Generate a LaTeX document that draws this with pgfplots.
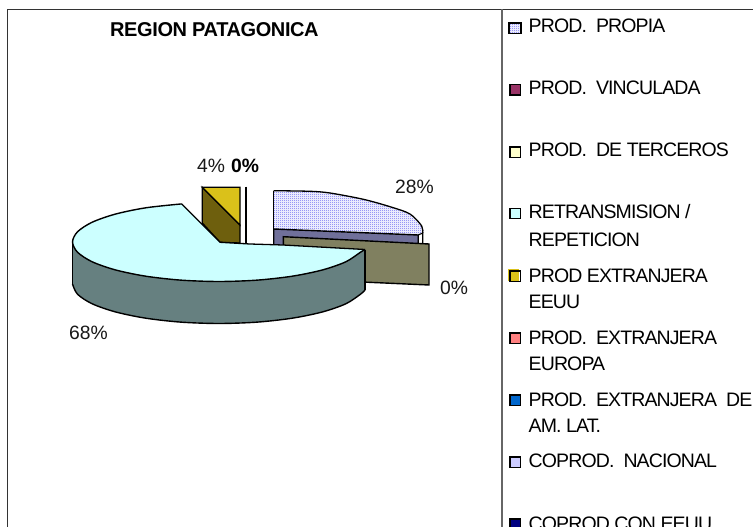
\documentclass[border=0pt]{standalone}
\usepackage{fontspec}
\setmainfont{Liberation Sans}
\newfontfamily\tight[LetterSpace=-4.5]{Liberation Sans}
\newfontfamily\tighttitle[LetterSpace=-2]{Liberation Sans}
\usepackage{pgfplots}
\pgfplotsset{compat=1.18}
\usetikzlibrary{patterns}
\pgfdeclarepatternformonly{dither}{\pgfqpoint{0pt}{0pt}}{\pgfqpoint{2pt}{2pt}}{\pgfqpoint{2pt}{2pt}}{%
  \pgfpathrectangle{\pgfqpoint{0pt}{0pt}}{\pgfqpoint{1pt}{1pt}}%
  \pgfpathrectangle{\pgfqpoint{1pt}{1pt}}{\pgfqpoint{1pt}{1pt}}%
  \pgfusepath{fill}}
\definecolor{bluepat}{HTML}{6060F0}
\definecolor{bandside}{HTML}{70709A}
\definecolor{olive}{HTML}{808060}
\definecolor{cyantop}{HTML}{CCFFFF}
\definecolor{cyanside}{HTML}{668080}
\definecolor{yel}{HTML}{DAC11A}
\definecolor{yeldark}{HTML}{6E5F0D}
\definecolor{maroonx}{HTML}{993366}
\definecolor{creamx}{HTML}{FFFFCC}
\definecolor{salmonx}{HTML}{FF8080}
\definecolor{bluex}{HTML}{0066CC}
\definecolor{lavx}{HTML}{CCCCFF}
\definecolor{navyx}{HTML}{000080}
\pgfplotsset{swatch/.style={only marks,mark=square*,mark size=5.2pt,mark options={fill=#1,draw=black,line width=1.4pt}}}
\tikzset{lg/.style={anchor=base west,font=\tight\fontsize{19.5}{20}\selectfont,inner sep=0pt,text=black},
  pc/.style={anchor=base west,font=\fontsize{19.3}{20}\selectfont,inner sep=0pt,text=black!90}}
\begin{document}
\begin{tikzpicture}[x=1pt,y=1pt]
\clip (0,0) rectangle (753,527);
\fill[white] (0,0) rectangle (753,527);
\begin{axis}[at={(0,0)},anchor=south west,scale only axis,width=753pt,height=527pt,
  xmin=0,xmax=753,ymin=0,ymax=527,y dir=reverse,hide axis,clip=false]
% frame
\addplot[draw=black!80,line width=1.3pt] coordinates {(7.3,540)(7.3,9.3)(753,9.3)};
\addplot[draw=black!60,line width=1.3pt] coordinates {(502,9.3)(502,540)};
% blue slice
\addplot[fill=white,draw=none] coordinates {(273.7,190.7)(310,191.3)(330,192.7)(363.3,199.3)(390,206.7)(410,214)(421.7,226)(422.7,233)(418.3,235)(273.7,229)} --cycle;
\addplot[pattern=dither,pattern color=bluepat,draw=none] coordinates {(273.7,190.7)(310,191.3)(330,192.7)(363.3,199.3)(390,206.7)(410,214)(421.7,226)(422.7,233)(418.3,235)(273.7,229)} --cycle;
\addplot[draw=black,line width=1.3pt,smooth,tension=0.5] coordinates {(273.7,190.7)(310,191.3)(330,193)(363.3,199.3)(390,206.7)(410,214)(421.7,226)(422.7,233)};
\addplot[draw=black,line width=1.1pt] coordinates {(273.7,229)(273.7,190.7)};
\addplot[fill=bandside,draw=black,line width=1.4pt] coordinates {(273.7,229)(418.3,235)(418.3,244)(273.7,246)} --cycle;
\addplot[fill=white,draw=black,line width=1.1pt] coordinates {(418.3,235)(422.7,233)(422.7,244)(418.3,244)} --cycle;
% olive
\addplot[fill=olive,draw=black,line width=1.4pt] coordinates {(283.3,236.7)(429,244)(429,285)(340,281)(283.3,270)} --cycle;
% yellow
\addplot[fill=yeldark,draw=black,line width=1.3pt] coordinates {(202.3,187.3)(240,225)(240,243)(220,242.3)(202.3,223)} --cycle;
\addplot[fill=yel,draw=black,line width=1.3pt] coordinates {(202.3,187.3)(240,187.3)(240,225)} --cycle;
\addplot[draw=black,line width=1.8pt] coordinates {(245.7,186.5)(245.7,243)};
% cyan side
\addplot[fill=cyanside,draw=none] coordinates {(72.5,242)(72.5,284)(77.5,294.2)(92.1,303.75)(115.4,311.9)(145.75,318.2)(181.1,322.15)(219,323.5)(256.9,322.15)(292.25,318.2)(322.6,311.9)(345.9,303.75)(360.5,294.2)(365,290)(365,249.5)(360.5,252.2)(345.9,261.75)(322.6,269.9)(292.25,276.2)(256.9,280.15)(219,281.5)(181.1,280.15)(145.75,276.2)(115.4,269.9)(92.1,261.75)(77.5,252.2)} --cycle;
\addplot[draw=black,line width=1.4pt,smooth,tension=0.5] coordinates {(72.5,284)(77.5,294.2)(92.1,303.75)(115.4,311.9)(145.75,318.2)(181.1,322.15)(219,323.5)(256.9,322.15)(292.25,318.2)(322.6,311.9)(345.9,303.75)(360.5,294.2)(365,290)};
\addplot[draw=black,line width=1.4pt] coordinates {(72.5,242)(72.5,284)};
\addplot[draw=black,line width=1.4pt] coordinates {(365,249.5)(365,290)};
% cyan top
\addplot[fill=cyantop,draw=none] coordinates {(220,242.3)(181.7,203.9)(145.75,207.8)(115.4,214.1)(92.1,222.25)(77.5,231.8)(72.5,242)(77.5,252.2)(92.1,261.75)(115.4,269.9)(145.75,276.2)(181.1,280.15)(219,281.5)(256.9,280.15)(292.25,276.2)(322.6,269.9)(345.9,261.75)(360.5,252.2)(365,249.5)(283,245)(250,244)} --cycle;
\addplot[draw=black,line width=1.4pt,smooth,tension=0.5] coordinates {(181.7,203.9)(145.75,207.8)(115.4,214.1)(92.1,222.25)(77.5,231.8)(72.5,242)(77.5,252.2)(92.1,261.75)(115.4,269.9)(145.75,276.2)(181.1,280.15)(219,281.5)(256.9,280.15)(292.25,276.2)(322.6,269.9)(345.9,261.75)(360.5,252.2)(365,249.5)};
\addplot[draw=black,line width=1.3pt] coordinates {(181.7,203.9)(220,242.3)(250,244)(283,245)(365,249.5)};
% legend swatches
\addplot[fill=white,draw=none] coordinates {(508.8,23)(521,23)(521,33.5)(508.8,33.5)} --cycle;
\addplot[pattern=dither,pattern color=bluepat,draw=black,line width=1.4pt] coordinates {(508.8,23)(521,23)(521,33.5)(508.8,33.5)} --cycle;
\addplot[swatch=maroonx] coordinates {(515,90)};
\addplot[swatch=creamx] coordinates {(515,152)};
\addplot[swatch=cyantop] coordinates {(515,213.5)};
\addplot[only marks,mark=square*,mark size=5.2pt,mark options={fill=yel,draw=yel}] coordinates {(513,274.5)};
\addplot[only marks,mark=square,mark size=5.2pt,mark options={draw=black,line width=1.4pt}] coordinates {(515,276)};
\addplot[swatch=salmonx] coordinates {(515,338)};
\addplot[swatch=bluex] coordinates {(515,400)};
\addplot[swatch=lavx] coordinates {(515,462)};
\addplot[swatch=navyx] coordinates {(515,524)};
% labels
\node[anchor=base west,font=\tighttitle\bfseries\fontsize{20}{20}\selectfont,inner sep=0pt] at (axis cs:110,36.7) {REGION PATAGONICA};
\node[pc] at (axis cs:197,172) {4\%};
\node[pc,font=\bfseries\fontsize{19.3}{20}\selectfont,text=black] at (axis cs:231,172) {0\%};
\node[pc] at (axis cs:395,193) {28\%};
\node[pc] at (axis cs:440,294) {0\%};
\node[pc] at (axis cs:69,339) {68\%};
\node[lg] at (axis cs:528.5,33) {PROD.~~PROPIA};
\node[lg] at (axis cs:528.5,95) {PROD.~~VINCULADA};
\node[lg] at (axis cs:528.5,157) {PROD.~~DE TERCEROS};
\node[lg] at (axis cs:528.5,218.5) {RETRANSMISION /};
\node[lg] at (axis cs:528.5,246) {REPETICION};
\node[lg] at (axis cs:528.5,282) {PROD EXTRANJERA};
\node[lg] at (axis cs:528.5,308) {EEUU};
\node[lg] at (axis cs:528.5,344) {PROD.~~EXTRANJERA};
\node[lg] at (axis cs:528.5,370) {EUROPA};
\node[lg] at (axis cs:528.5,406) {PROD.~~EXTRANJERA~~DE};
\node[lg] at (axis cs:528.5,432) {AM. LAT.};
\node[lg] at (axis cs:528.5,467) {COPROD.~~NACIONAL};
\node[lg] at (axis cs:528.5,530) {COPROD CON EEUU};
\end{axis}
\end{tikzpicture}
\end{document}
